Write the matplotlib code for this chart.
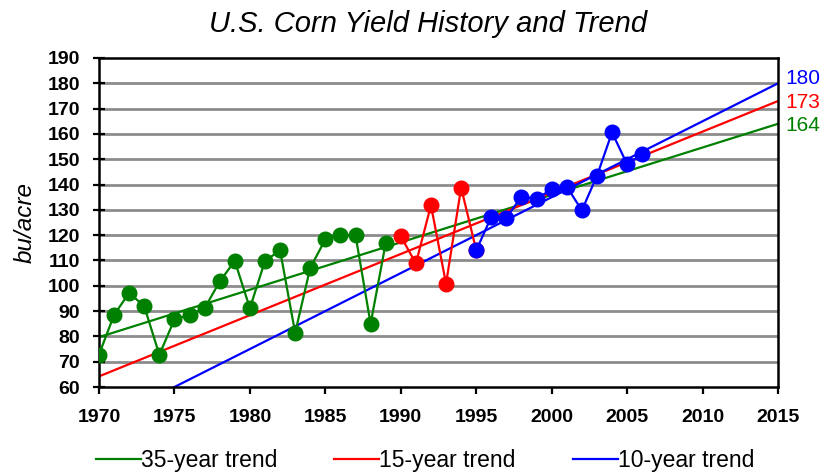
# U.S. corn yield history with three linear trend lines
import matplotlib
matplotlib.use('Agg')
import matplotlib.pyplot as plt
import numpy as np

years_35 = [1970, 1971, 1972, 1973, 1974, 1975, 1976, 1977, 1978, 1979,
            1980, 1981, 1982, 1983, 1984, 1985, 1986, 1987, 1988, 1989]
yield_35 = [72.8, 88.5, 97.2, 91.9, 72.7, 86.7, 88.5, 91.1, 101.7, 109.8,
            91.1, 109.8, 114.0, 81.4, 107.1, 118.3, 120.0, 120.0, 85.0, 116.8]
years_15 = [1990, 1991, 1992, 1993, 1994, 1995]
yield_15 = [119.6, 108.8, 131.8, 100.8, 138.8, 114.0]
years_10 = [1995, 1996, 1997, 1998, 1999, 2000, 2001, 2002, 2003, 2004, 2005, 2006]
yield_10 = [114.0, 127.2, 126.9, 135.2, 134.4, 138.1, 139.2, 129.8, 143.4, 160.6, 148.0, 152.0]

trend_years = [1970, 2015]
trend_35 = [79.7, 164.0]
trend_15 = [64.2, 173.0]
trend_10 = [45.0, 180.0]
trend_labels = ['35-year trend', '15-year trend', '10-year trend']
end_labels = ['164', '173', '180']

green = '#008000'
red = '#ff0000'
blue = '#0000ff'

fig = plt.figure(figsize=(8.37, 4.72), dpi=100)
ax = fig.add_axes([99/837, 1-387/472, (778-99)/837, (387-58)/472])

for y in np.arange(70, 190, 10):
    ax.axhline(y, color='#8c8c8c', lw=2.0, zorder=0)

l35, = ax.plot(trend_years, trend_35, color=green, lw=1.6, zorder=2)
l15, = ax.plot(trend_years, trend_15, color=red, lw=1.6, zorder=2)
l10, = ax.plot(trend_years, trend_10, color=blue, lw=1.6, zorder=2)

ax.plot(years_35, yield_35, color=green, lw=1.6, marker='o', ms=10.5, zorder=3)
ax.plot(years_15, yield_15, color=red, lw=1.6, marker='o', ms=10.5, zorder=3)
ax.plot(years_10, yield_10, color=blue, lw=1.6, marker='o', ms=10.5, zorder=4)

ax.set_xlim(1970, 2015)
ax.set_ylim(60, 190)
ax.set_xticks(np.arange(1970, 2016, 5))
ax.set_yticks(np.arange(60, 191, 10))
for s in ax.spines.values():
    s.set_linewidth(1.8)
ax.tick_params(axis='x', direction='out', length=5, width=1.6, pad=11)
ax.tick_params(axis='y', direction='inout', length=9, width=1.6, pad=9)
for lab in ax.get_xticklabels() + ax.get_yticklabels():
    lab.set_fontfamily('Liberation Sans')
    lab.set_fontweight('bold')
    lab.set_fontsize(14)

ax.set_ylabel('bu/acre', fontsize=17.5, style='italic', family='Liberation Sans', labelpad=8)

# end-of-line values, nudged apart a little so they do not collide
label_y = [trend_35[1] - 0.8, trend_15[1] - 0.4, trend_10[1] + 2.0]
for val, lab, c in zip(label_y, end_labels, [green, red, blue]):
    ax.text(2015.5, val, lab, color=c, fontsize=15, va='center', ha='left',
            family='Liberation Sans', clip_on=False)

fig.text(428/837, 1-24/472, 'U.S. Corn Yield History and Trend', ha='center', va='center',
         fontsize=21, style='italic', family='Liberation Sans')

fig.legend([l35, l15, l10], trend_labels, loc='center', bbox_to_anchor=(425/837, 1-461/472),
           ncol=3, frameon=False, handlelength=1.95, handletextpad=0.0, columnspacing=2.5,
           prop={'family': 'Liberation Sans', 'size': 16.5})

fig.savefig('out.png', dpi=100)
